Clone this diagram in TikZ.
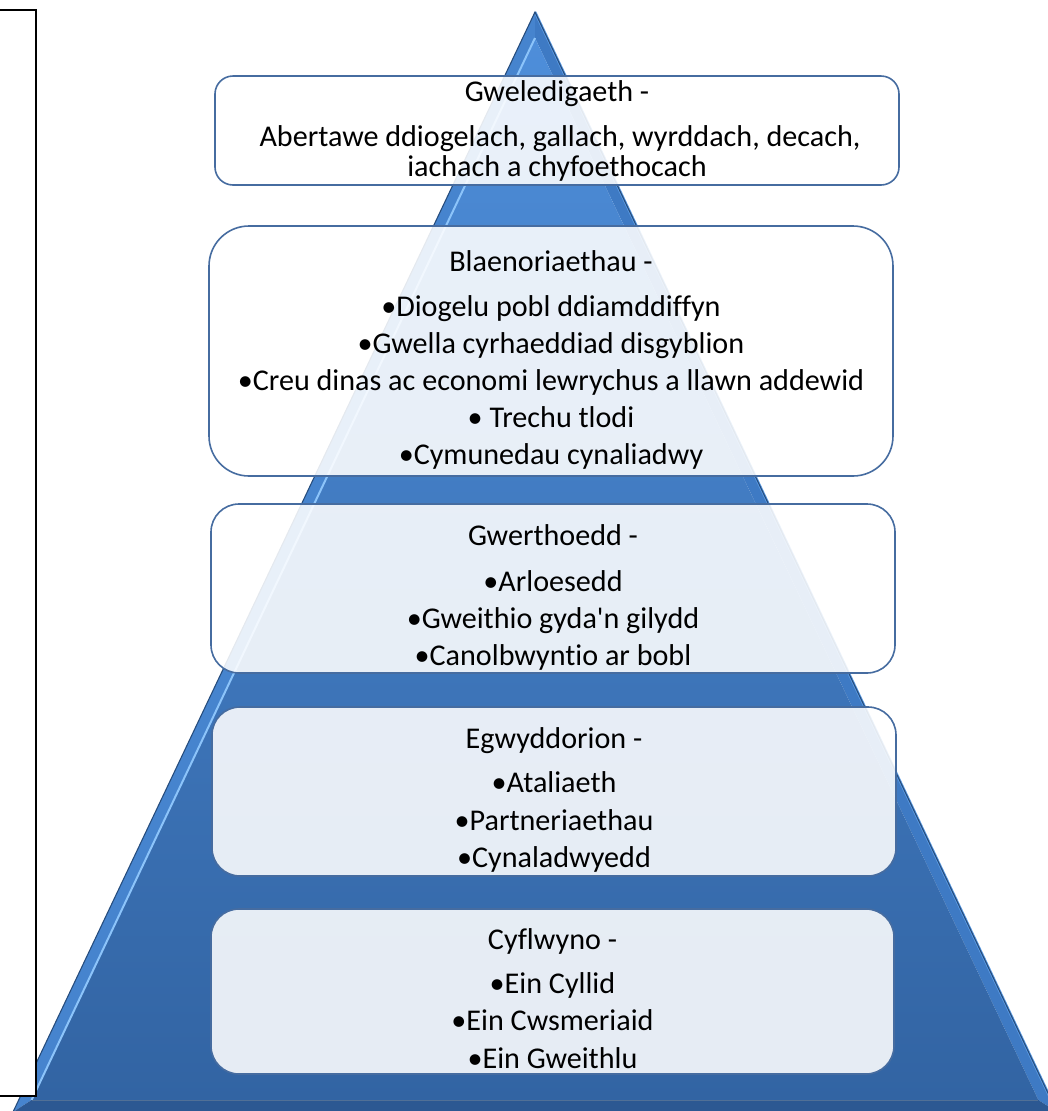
\documentclass[tikz,border=0pt]{standalone}
\usepackage{fontspec}
\setmainfont{Carlito}[Ligatures={TeX,NoCommon}]
\definecolor{boxedge}{RGB}{70,108,160}
\definecolor{pyrtop}{RGB}{78,142,218}
\definecolor{pyrmid}{RGB}{57,116,188}
\definecolor{pyrbot}{RGB}{50,100,163}
\definecolor{bevleft}{RGB}{70,132,206}
\definecolor{bevhi}{RGB}{140,196,250}
\definecolor{bevright}{RGB}{62,122,196}
\definecolor{bevrightedge}{RGB}{92,156,228}
\definecolor{bevbot}{RGB}{44,88,146}
\definecolor{pyredge}{RGB}{38,76,124}
\newcommand{\tierfont}{\fontsize{22.6}{27}\selectfont}
\tikzset{
  tierbox/.style={draw=boxedge, line width=1.2pt, fill=white, fill opacity=0.88,
    draw opacity=1, inner sep=0pt, rectangle, rounded corners=#1},
  tiertext/.style={anchor=base, font=\tierfont, text=black, inner sep=0pt},
}
\begin{document}
\begin{tikzpicture}[x=0.75pt,y=-0.75pt]
\useasboundingbox (0,0) rectangle (1048,1111);
\clip (0,0) rectangle (1048,1111);
% pyramid
\coordinate (A) at (535,12);
\coordinate (L) at (13,1112);
\coordinate (R) at (1057,1112);
\coordinate (a) at (535,38);
\coordinate (l) at (31.6,1100);
\coordinate (r) at (1038.4,1100);
\fill[bevleft] (A) -- (L) -- (l) -- (a) -- cycle;
\fill[bevright] (A) -- (a) -- (r) -- (R) -- cycle;
\fill[bevbot] (l) -- (r) -- (R) -- (L) -- cycle;
\shade[top color=pyrtop, middle color=pyrmid, bottom color=pyrbot] (a) -- (l) -- (r) -- cycle;
\draw[bevhi, line width=1.5pt] (a) -- (l);
\draw[bevrightedge, line width=2pt] (A) -- (R);
\draw[pyredge, line width=0.8pt] (L) -- (A) -- (R);
\draw[pyredge!80, line width=0.6pt] (l) -- (r);
% left frame
\draw[black, line width=0.9pt, fill=white] (-5,10) rectangle (36,1096);
% tier boxes
\node (b1) [tierbox=13.5pt, minimum width=513pt, minimum height=81.75pt] at (557,130.5) {};
\node (b2) [tierbox=30pt, minimum width=513pt, minimum height=187.5pt] at (551,351) {};
\node (b3) [tierbox=21pt, minimum width=513pt, minimum height=126.75pt] at (553,588.5) {};
\node (b4) [tierbox=21pt, minimum width=513pt, minimum height=126.75pt] at (554,791.5) {};
\node (b5) [tierbox=21pt, minimum width=512.25pt, minimum height=123.75pt] at (552.5,991.5) {};
% texts
\node (t11) [tiertext] at (557,101) {Gweledigaeth -};
\node (t12) [tiertext] at (560,146.7) {Abertawe ddiogelach, gallach, wyrddach, decach,};
\node (t13) [tiertext] at (557,176.7) {iachach a chyfoethocach};
\node (t21) [tiertext] at (551,271.7) {Blaenoriaethau -};
\node (t22) [tiertext] at (551,316.7) {•Diogelu pobl ddiamddiffyn};
\node (t23) [tiertext] at (551,353.3) {•Gwella cyrhaeddiad disgyblion};
\node (t24) [tiertext] at (551,390) {•Creu dinas ac economi lewrychus a llawn addewid};
\node (t25) [tiertext] at (551,427.3) {• Trechu tlodi};
\node (t26) [tiertext] at (551,464.3) {•Cymunedau cynaliadwy};
\node (t31) [tiertext] at (553,545) {Gwerthoedd -};
\node (t32) [tiertext] at (553,591) {•Arloesedd};
\node (t33) [tiertext] at (553,628) {•Gweithio gyda\textquotesingle n gilydd};
\node (t34) [tiertext] at (553,665) {•Canolbwyntio ar bobl};
\node (t41) [tiertext] at (554,748) {Egwyddorion -};
\node (t42) [tiertext] at (554,792.5) {•Ataliaeth};
\node (t43) [tiertext] at (554,830) {•Partneriaethau};
\node (t44) [tiertext] at (554,867.5) {•Cynaladwyedd};
\node (t51) [tiertext] at (552.5,949) {Cyflwyno -};
\node (t52) [tiertext] at (552.5,993.6) {•Ein Cyllid};
\node (t53) [tiertext] at (552.5,1030.7) {•Ein Cwsmeriaid};
\node (t54) [tiertext] at (552.5,1068) {•Ein Gweithlu};
\end{tikzpicture}
\end{document}
